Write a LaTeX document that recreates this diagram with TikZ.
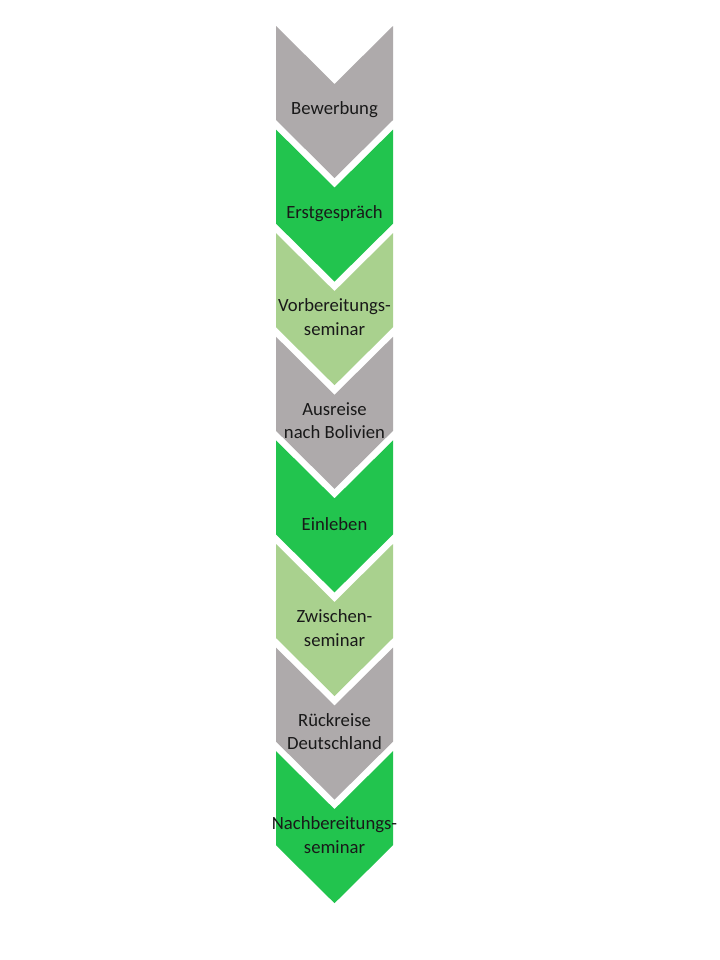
\documentclass[tikz,border=0pt]{standalone}
\usepackage{fontspec}
\setmainfont{Carlito}
\definecolor{cgray}{HTML}{AEAAAB}
\definecolor{cgreen}{HTML}{22C44E}
\definecolor{clight}{HTML}{A9D18E}
\tikzset{
  chev/.style={draw=none},
  lbl/.style={align=center, text=black!90, inner sep=0pt,
    font=\fontsize{14}{17.6}\selectfont}
}
\begin{document}
\begin{tikzpicture}[x=0.75pt,y=-0.75pt]
\useasboundingbox (0,0) rectangle (720,960);
\fill[white] (0,0) rectangle (720,960);
\foreach \i/\col/\txt/\nm in {
  0/cgray/Bewerbung/s1,
  1/cgreen/Erstgespräch/s2,
  2/clight/{Vorbereitungs-\\seminar}/s3,
  3/cgray/{Ausreise\\nach Bolivien}/s4,
  4/cgreen/Einleben/s5,
  5/clight/{Zwischen-\\seminar}/s6,
  6/cgray/{Rückreise\\Deutschland}/s7,
  7/cgreen/{Nachbereitungs-\\seminar}/s8}{
  \pgfmathsetmacro{\T}{26+103.6*\i}
  \fill[\col, chev] (276,\T) -- (334.5,\T+58) -- (393,\T) -- (393,\T+94)
     -- (334.5,\T+152) -- (276,\T+94) -- cycle;
  \node[lbl] (\nm) at (334.5,\T+84) {\txt};
}
\end{tikzpicture}
\end{document}
